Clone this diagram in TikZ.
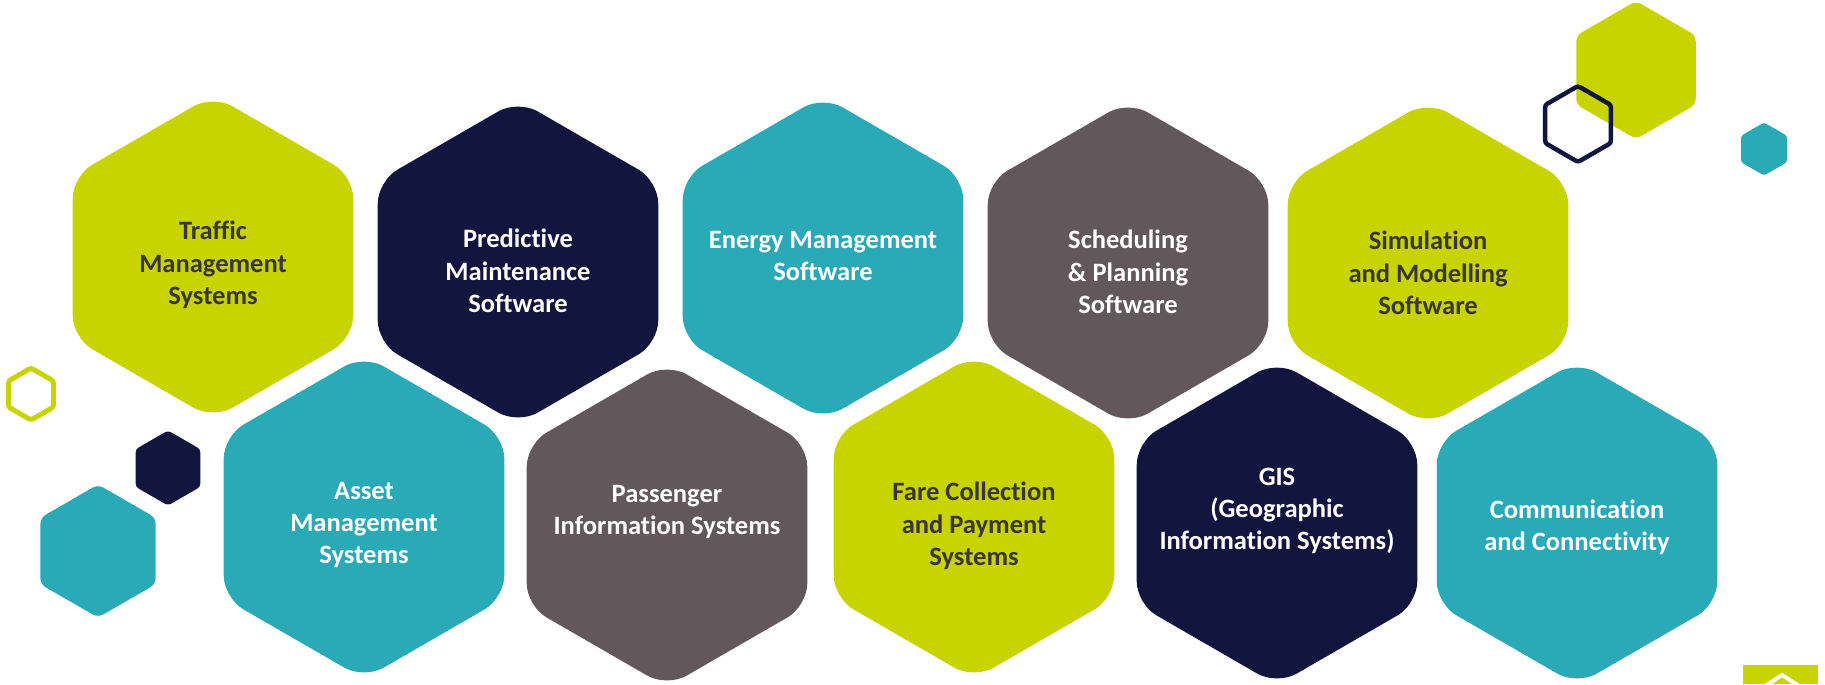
\documentclass[tikz,border=0pt]{standalone}
\usepackage{fontspec}
\setmainfont{Carlito}[Ligatures=NoCommon]
\usetikzlibrary{shapes.geometric}
\definecolor{hexlime}{HTML}{C8D400}
\definecolor{hexnavy}{HTML}{12153D}
\definecolor{hexteal}{HTML}{2AA9B7}
\definecolor{hextaupe}{HTML}{62575B}
\definecolor{hexgrey}{HTML}{3A3536}
\begin{document}
\begin{tikzpicture}[x=0.02cm,y=-0.02cm,
hexa/.style={regular polygon, regular polygon sides=6, shape border rotate=30, inner sep=0pt, minimum size=6.48cm, rounded corners=0.45cm},
smallhex/.style={regular polygon, regular polygon sides=6, shape border rotate=30, inner sep=0pt, rounded corners=0.12cm},
lbl/.style={align=center, text=white, font=\fontsize{15.1}{18.4}\selectfont\bfseries}]
\useasboundingbox (0,0) rectangle (1825,684);
% decoration
\node[smallhex, fill=hexlime, minimum size=2.76cm] (decolime) at (1636,70) {};
\node[smallhex, draw=hexnavy, line width=0.09cm, minimum size=1.52cm, rounded corners=0.05cm] (decoring) at (1578,124) {};
\node[smallhex, fill=hexteal, minimum size=1.06cm, rounded corners=0.05cm] (decodot) at (1764,149) {};
\node[smallhex, draw=hexlime, line width=0.1cm, minimum size=1.04cm, rounded corners=0.05cm] (decoringleft) at (31,394) {};
\node[smallhex, fill=hexnavy, minimum size=1.5cm, rounded corners=0.07cm] (deconavy) at (168,468) {};
\node[smallhex, fill=hexteal, minimum size=2.66cm] (decoteal) at (98,551) {};
\fill[hexlime] (1743,665) rectangle (1818,684);
\draw[white, line width=0.08cm] (1765,686) -- (1782,675) -- (1799,686);
% top row
\node[hexa, fill=hexlime] (traffic) at (213,257) {};
\node[hexa, fill=hexnavy] (predictive) at (518,262) {};
\node[hexa, fill=hexteal] (energy) at (823,258) {};
\node[hexa, fill=hextaupe] (scheduling) at (1128,263) {};
\node[hexa, fill=hexlime] (simulation) at (1428,263) {};
% bottom row
\node[hexa, fill=hexteal] (asset) at (364,517) {};
\node[hexa, fill=hextaupe] (passenger) at (667,525) {};
\node[hexa, fill=hexlime] (fare) at (974,517) {};
\node[hexa, fill=hexnavy] (gis) at (1277,523) {};
\node[hexa, fill=hexteal] (communication) at (1577,523) {};
% labels
\node[lbl, text=hexgrey] (traffic-t) at ([shift={(0,8)}]traffic.center) {Traffic\\Management\\Systems};
\node[lbl] (predictive-t) at ([shift={(0,9)}]predictive.center) {Predictive\\Maintenance\\Software};
\node[lbl] (energy-t) at ([shift={(0,-2)}]energy.center) {Energy Management\\Software};
\node[lbl] (scheduling-t) at ([shift={(0,9)}]scheduling.center) {Scheduling\\\& Planning\\Software};
\node[lbl, text=hexgrey] (simulation-t) at ([shift={(0,10)}]simulation.center) {Simulation\\and Modelling\\Software};
\node[lbl] (asset-t) at ([shift={(0,8)}]asset.center) {Asset\\Management\\Systems};
\node[lbl] (passenger-t) at ([shift={(0,-13)}]passenger.center) {Passenger\\Information Systems};
\node[lbl, text=hexgrey] (fare-t) at ([shift={(0,9)}]fare.center) {Fare Collection\\and Payment\\Systems};
\node[lbl] (gis-t) at ([shift={(0,-12)}]gis.center) {GIS\\(Geographic\\Information Systems)};
\node[lbl] (communication-t) at ([shift={(0,4)}]communication.center) {Communication\\and Connectivity};
\end{tikzpicture}
\end{document}
